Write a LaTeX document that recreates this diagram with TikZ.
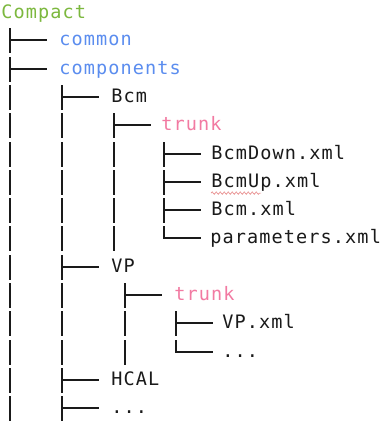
\documentclass[tikz,border=0pt]{standalone}
\usepackage{fontspec}
\setmonofont[LetterSpace=6.0]{DejaVu Sans Mono}
\usetikzlibrary{decorations.pathmorphing}
\definecolor{rootgreen}{HTML}{7CB83E}
\definecolor{dirblue}{HTML}{5B8DEF}
\definecolor{trunkpink}{HTML}{F27AA2}
\definecolor{ink}{HTML}{1A1A1A}
\definecolor{spellred}{HTML}{E06060}
\newcommand\rc[1]{round(12+28.3*#1)}
\newcommand\treetee[2]{%
  \draw[treeline] (#1,{\rc{#2}-12}) -- (#1,{\rc{#2}+13});
  \draw[treeline] (#1,{\rc{#2}}) -- ({#1+37},{\rc{#2}});}
\newcommand\treebar[2]{%
  \draw[treeline] (#1,{\rc{#2}-12}) -- (#1,{\rc{#2}+13});}
\newcommand\treeend[2]{%
  \draw[treeline] (#1,{\rc{#2}-12}) -- (#1,{\rc{#2}}) -- ({#1+37},{\rc{#2}});}
\begin{document}
\begin{tikzpicture}[x=0.75pt,y=-0.75pt,
  treeline/.style={draw=ink,line width=1.4pt},
  lbl/.style={anchor=base west,inner sep=0pt,text=ink,
    font=\fontsize{13.9pt}{16pt}\selectfont\ttfamily}]
\useasboundingbox[fill=white] (0,0) rectangle (383,422);
% labels
\node[lbl,text=rootgreen] (compact) at (1,{\rc{0}+6}) {Compact};
\node[lbl,text=dirblue] (common) at (59,{\rc{1}+5.5}) {common};
\node[lbl,text=dirblue] (components) at (59,{\rc{2}+5.5}) {components};
\node[lbl] (bcm) at (111,{\rc{3}+5.5}) {Bcm};
\node[lbl,text=trunkpink] (trunkA) at (161,{\rc{4}+5.5}) {trunk};
\node[lbl] (bcmdown) at (211,{\rc{5}+5.5}) {BcmDown.xml};
\node[lbl] (bcmup) at (211,{\rc{6}+5.5}) {BcmUp.xml};
\node[lbl] (bcmxml) at (211,{\rc{7}+5.5}) {Bcm.xml};
\node[lbl] (params) at (210,{\rc{8}+5.5}) {parameters.xml};
\node[lbl] (vp) at (111,{\rc{9}+5.5}) {VP};
\node[lbl,text=trunkpink] (trunkB) at (174,{\rc{10}+5.5}) {trunk};
\node[lbl] (vpxml) at (222,{\rc{11}+5.5}) {VP.xml};
\node[lbl] (vpdots) at (222,{\rc{12}+5.5}) {...};
\node[lbl] (hcal) at (111,{\rc{13}+5.5}) {HCAL};
\node[lbl] (compdots) at (111,{\rc{14}+5.5}) {...};
% level 1 column
\treetee{10}{1}
\treetee{10}{2}
\foreach \r in {3,...,14} {\treebar{10}{\r}}
% level 2 column
\treetee{62}{3}
\foreach \r in {4,...,8} {\treebar{62}{\r}}
\treetee{62}{9}
\foreach \r in {10,11,12} {\treebar{62}{\r}}
\treetee{62}{13}
\treetee{62}{14}
% Bcm children
\treetee{114}{4}
\foreach \r in {5,...,8} {\treebar{114}{\r}}
% Bcm trunk children
\treetee{164}{5}
\treetee{164}{6}
\treetee{164}{7}
\treeend{164}{8}
% VP children
\treetee{125}{10}
\treebar{125}{11}
\treebar{125}{12}
% VP trunk children
\treetee{176}{11}
\treeend{176}{12}
% spell-check underline
\draw[spellred!70,line width=0.5pt,decorate,
  decoration={snake,amplitude=0.9pt,segment length=3pt}]
  ([yshift=-4.2pt]bcmup.base west) -- ++(50,0);
\end{tikzpicture}
\end{document}
